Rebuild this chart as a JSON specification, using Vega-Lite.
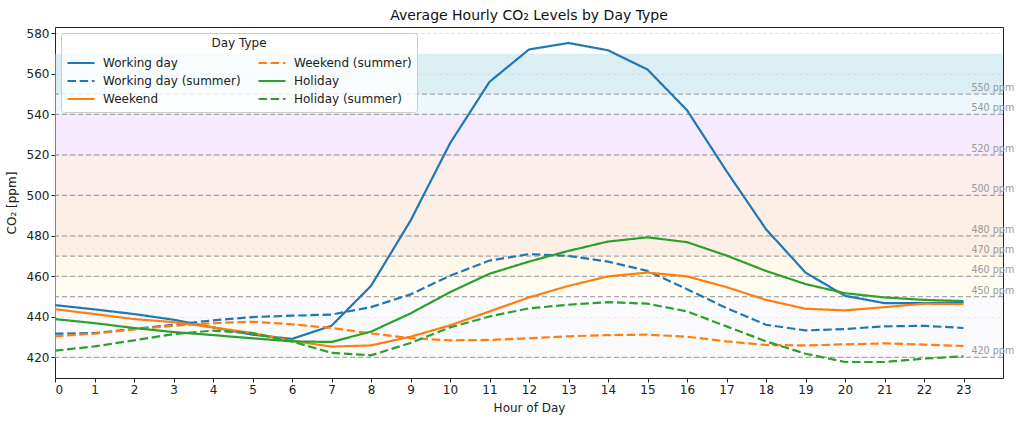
{
  "$schema": "https://vega.github.io/schema/vega-lite/v6.json",
  "width": 948,
  "height": 351,
  "autosize": {"type": "none"},
  "padding": {"left": 55, "top": 27, "right": 21, "bottom": 44},
  "background": "white",
  "config": {
    "font": "DejaVu Sans",
    "view": {"stroke": "#222", "strokeWidth": 1},
    "axis": {
      "labelFontSize": 12, "labelColor": "#222", "titleFontSize": 12, "titleFontWeight": "normal", "titleColor": "#222",
      "tickColor": "#222", "tickSize": 4, "labelPadding": 2, "domain": false,
      "gridColor": "#b0b0b0", "gridDash": [3, 3], "gridOpacity": 0.55, "gridWidth": 0.8
    },
    "legend": {
      "orient": "top-left", "offset": 6, "columns": 2, "symbolType": "stroke", "symbolSize": 729, "symbolStrokeWidth": 2.2,
      "labelFontSize": 12, "labelColor": "#222", "titleFontSize": 12, "titleFontWeight": "normal", "titleColor": "#222", "titleAnchor": "middle",
      "fillColor": "rgba(255,255,255,0.8)", "strokeColor": "#cccccc", "cornerRadius": 3, "padding": 5,
      "columnPadding": 16, "rowPadding": 2, "clipHeight": 16, "titlePadding": 5, "labelOffset": 7
    }
  },
  "title": {"text": "Average Hourly CO₂ Levels by Day Type", "fontSize": 14, "fontWeight": "normal", "color": "#111", "offset": 4},
  "datasets": {
    "bands": [
      {"lo": 550, "hi": 570, "band": "550-570"},
      {"lo": 540, "hi": 550, "band": "540-550"},
      {"lo": 520, "hi": 540, "band": "520-540"},
      {"lo": 500, "hi": 520, "band": "500-520"},
      {"lo": 480, "hi": 500, "band": "480-500"},
      {"lo": 470, "hi": 480, "band": "470-480"},
      {"lo": 460, "hi": 470, "band": "460-470"},
      {"lo": 450, "hi": 460, "band": "450-460"},
      {"lo": 420, "hi": 450, "band": "420-450"}
    ],
    "levels": [
      {"level": 420, "label": "420 ppm"},
      {"level": 450, "label": "450 ppm"},
      {"level": 460, "label": "460 ppm"},
      {"level": 470, "label": "470 ppm"},
      {"level": 480, "label": "480 ppm"},
      {"level": 500, "label": "500 ppm"},
      {"level": 520, "label": "520 ppm"},
      {"level": 540, "label": "540 ppm"},
      {"level": 550, "label": "550 ppm"}
    ],
    "co2": [
      {"hour": 0, "series": "Working day", "co2": 445.8},
      {"hour": 1, "series": "Working day", "co2": 443.7},
      {"hour": 2, "series": "Working day", "co2": 441.4},
      {"hour": 3, "series": "Working day", "co2": 438.6},
      {"hour": 4, "series": "Working day", "co2": 434.8},
      {"hour": 5, "series": "Working day", "co2": 431.2},
      {"hour": 6, "series": "Working day", "co2": 429.1},
      {"hour": 7, "series": "Working day", "co2": 435.6},
      {"hour": 8, "series": "Working day", "co2": 455.3},
      {"hour": 9, "series": "Working day", "co2": 487.5},
      {"hour": 10, "series": "Working day", "co2": 525.7},
      {"hour": 11, "series": "Working day", "co2": 556.1},
      {"hour": 12, "series": "Working day", "co2": 572.1},
      {"hour": 13, "series": "Working day", "co2": 575.3},
      {"hour": 14, "series": "Working day", "co2": 571.7},
      {"hour": 15, "series": "Working day", "co2": 562.2},
      {"hour": 16, "series": "Working day", "co2": 542.1},
      {"hour": 17, "series": "Working day", "co2": 512.0},
      {"hour": 18, "series": "Working day", "co2": 483.3},
      {"hour": 19, "series": "Working day", "co2": 461.9},
      {"hour": 20, "series": "Working day", "co2": 450.4},
      {"hour": 21, "series": "Working day", "co2": 446.8},
      {"hour": 22, "series": "Working day", "co2": 446.8},
      {"hour": 23, "series": "Working day", "co2": 447.1},
      {"hour": 0, "series": "Working day (summer)", "co2": 431.7},
      {"hour": 1, "series": "Working day (summer)", "co2": 432.0},
      {"hour": 2, "series": "Working day (summer)", "co2": 434.0},
      {"hour": 3, "series": "Working day (summer)", "co2": 436.1},
      {"hour": 4, "series": "Working day (summer)", "co2": 438.3},
      {"hour": 5, "series": "Working day (summer)", "co2": 439.9},
      {"hour": 6, "series": "Working day (summer)", "co2": 440.6},
      {"hour": 7, "series": "Working day (summer)", "co2": 441.1},
      {"hour": 8, "series": "Working day (summer)", "co2": 444.8},
      {"hour": 9, "series": "Working day (summer)", "co2": 451.1},
      {"hour": 10, "series": "Working day (summer)", "co2": 460.3},
      {"hour": 11, "series": "Working day (summer)", "co2": 467.8},
      {"hour": 12, "series": "Working day (summer)", "co2": 471.0},
      {"hour": 13, "series": "Working day (summer)", "co2": 470.1},
      {"hour": 14, "series": "Working day (summer)", "co2": 467.3},
      {"hour": 15, "series": "Working day (summer)", "co2": 462.7},
      {"hour": 16, "series": "Working day (summer)", "co2": 453.7},
      {"hour": 17, "series": "Working day (summer)", "co2": 444.3},
      {"hour": 18, "series": "Working day (summer)", "co2": 436.1},
      {"hour": 19, "series": "Working day (summer)", "co2": 433.3},
      {"hour": 20, "series": "Working day (summer)", "co2": 434.0},
      {"hour": 21, "series": "Working day (summer)", "co2": 435.3},
      {"hour": 22, "series": "Working day (summer)", "co2": 435.6},
      {"hour": 23, "series": "Working day (summer)", "co2": 434.5},
      {"hour": 0, "series": "Weekend", "co2": 443.8},
      {"hour": 1, "series": "Weekend", "co2": 441.4},
      {"hour": 2, "series": "Weekend", "co2": 438.9},
      {"hour": 3, "series": "Weekend", "co2": 437.4},
      {"hour": 4, "series": "Weekend", "co2": 434.8},
      {"hour": 5, "series": "Weekend", "co2": 432.0},
      {"hour": 6, "series": "Weekend", "co2": 428.2},
      {"hour": 7, "series": "Weekend", "co2": 425.3},
      {"hour": 8, "series": "Weekend", "co2": 425.9},
      {"hour": 9, "series": "Weekend", "co2": 430.2},
      {"hour": 10, "series": "Weekend", "co2": 435.8},
      {"hour": 11, "series": "Weekend", "co2": 442.7},
      {"hour": 12, "series": "Weekend", "co2": 449.6},
      {"hour": 13, "series": "Weekend", "co2": 455.3},
      {"hour": 14, "series": "Weekend", "co2": 460.0},
      {"hour": 15, "series": "Weekend", "co2": 461.9},
      {"hour": 16, "series": "Weekend", "co2": 460.0},
      {"hour": 17, "series": "Weekend", "co2": 454.7},
      {"hour": 18, "series": "Weekend", "co2": 448.4},
      {"hour": 19, "series": "Weekend", "co2": 444.0},
      {"hour": 20, "series": "Weekend", "co2": 443.2},
      {"hour": 21, "series": "Weekend", "co2": 444.8},
      {"hour": 22, "series": "Weekend", "co2": 446.5},
      {"hour": 23, "series": "Weekend", "co2": 446.3},
      {"hour": 0, "series": "Weekend (summer)", "co2": 430.4},
      {"hour": 1, "series": "Weekend (summer)", "co2": 431.7},
      {"hour": 2, "series": "Weekend (summer)", "co2": 433.8},
      {"hour": 3, "series": "Weekend (summer)", "co2": 435.6},
      {"hour": 4, "series": "Weekend (summer)", "co2": 436.9},
      {"hour": 5, "series": "Weekend (summer)", "co2": 437.6},
      {"hour": 6, "series": "Weekend (summer)", "co2": 436.3},
      {"hour": 7, "series": "Weekend (summer)", "co2": 434.5},
      {"hour": 8, "series": "Weekend (summer)", "co2": 431.8},
      {"hour": 9, "series": "Weekend (summer)", "co2": 429.5},
      {"hour": 10, "series": "Weekend (summer)", "co2": 428.4},
      {"hour": 11, "series": "Weekend (summer)", "co2": 428.6},
      {"hour": 12, "series": "Weekend (summer)", "co2": 429.4},
      {"hour": 13, "series": "Weekend (summer)", "co2": 430.4},
      {"hour": 14, "series": "Weekend (summer)", "co2": 431.0},
      {"hour": 15, "series": "Weekend (summer)", "co2": 431.2},
      {"hour": 16, "series": "Weekend (summer)", "co2": 430.2},
      {"hour": 17, "series": "Weekend (summer)", "co2": 427.9},
      {"hour": 18, "series": "Weekend (summer)", "co2": 426.1},
      {"hour": 19, "series": "Weekend (summer)", "co2": 425.9},
      {"hour": 20, "series": "Weekend (summer)", "co2": 426.4},
      {"hour": 21, "series": "Weekend (summer)", "co2": 426.9},
      {"hour": 22, "series": "Weekend (summer)", "co2": 426.3},
      {"hour": 23, "series": "Weekend (summer)", "co2": 425.6},
      {"hour": 0, "series": "Holiday", "co2": 438.9},
      {"hour": 1, "series": "Holiday", "co2": 436.9},
      {"hour": 2, "series": "Holiday", "co2": 434.5},
      {"hour": 3, "series": "Holiday", "co2": 432.5},
      {"hour": 4, "series": "Holiday", "co2": 431.0},
      {"hour": 5, "series": "Holiday", "co2": 429.4},
      {"hour": 6, "series": "Holiday", "co2": 427.9},
      {"hour": 7, "series": "Holiday", "co2": 427.6},
      {"hour": 8, "series": "Holiday", "co2": 432.7},
      {"hour": 9, "series": "Holiday", "co2": 441.7},
      {"hour": 10, "series": "Holiday", "co2": 452.2},
      {"hour": 11, "series": "Holiday", "co2": 461.3},
      {"hour": 12, "series": "Holiday", "co2": 467.3},
      {"hour": 13, "series": "Holiday", "co2": 472.6},
      {"hour": 14, "series": "Holiday", "co2": 477.2},
      {"hour": 15, "series": "Holiday", "co2": 479.3},
      {"hour": 16, "series": "Holiday", "co2": 476.9},
      {"hour": 17, "series": "Holiday", "co2": 470.3},
      {"hour": 18, "series": "Holiday", "co2": 462.7},
      {"hour": 19, "series": "Holiday", "co2": 456.2},
      {"hour": 20, "series": "Holiday", "co2": 451.7},
      {"hour": 21, "series": "Holiday", "co2": 449.6},
      {"hour": 22, "series": "Holiday", "co2": 448.4},
      {"hour": 23, "series": "Holiday", "co2": 447.8},
      {"hour": 0, "series": "Holiday (summer)", "co2": 423.3},
      {"hour": 1, "series": "Holiday (summer)", "co2": 425.4},
      {"hour": 2, "series": "Holiday (summer)", "co2": 428.4},
      {"hour": 3, "series": "Holiday (summer)", "co2": 431.5},
      {"hour": 4, "series": "Holiday (summer)", "co2": 433.2},
      {"hour": 5, "series": "Holiday (summer)", "co2": 432.0},
      {"hour": 6, "series": "Holiday (summer)", "co2": 427.9},
      {"hour": 7, "series": "Holiday (summer)", "co2": 422.2},
      {"hour": 8, "series": "Holiday (summer)", "co2": 421.0},
      {"hour": 9, "series": "Holiday (summer)", "co2": 427.1},
      {"hour": 10, "series": "Holiday (summer)", "co2": 434.8},
      {"hour": 11, "series": "Holiday (summer)", "co2": 440.2},
      {"hour": 12, "series": "Holiday (summer)", "co2": 444.2},
      {"hour": 13, "series": "Holiday (summer)", "co2": 446.0},
      {"hour": 14, "series": "Holiday (summer)", "co2": 447.3},
      {"hour": 15, "series": "Holiday (summer)", "co2": 446.5},
      {"hour": 16, "series": "Holiday (summer)", "co2": 442.7},
      {"hour": 17, "series": "Holiday (summer)", "co2": 435.3},
      {"hour": 18, "series": "Holiday (summer)", "co2": 427.9},
      {"hour": 19, "series": "Holiday (summer)", "co2": 421.8},
      {"hour": 20, "series": "Holiday (summer)", "co2": 417.7},
      {"hour": 21, "series": "Holiday (summer)", "co2": 417.7},
      {"hour": 22, "series": "Holiday (summer)", "co2": 419.4},
      {"hour": 23, "series": "Holiday (summer)", "co2": 420.5}
    ]
  },
  "layer": [
    {
      "data": {"name": "bands"},
      "mark": {"type": "rect", "fillOpacity": 0.5},
      "encoding": {
        "y": {"field": "lo", "type": "quantitative", "scale": {"domain": [409.8, 583.2], "nice": false, "zero": false},
              "axis": {"values": [420, 440, 460, 480, 500, 520, 540, 560, 580], "title": "CO₂ [ppm]", "titlePadding": 8}},
        "y2": {"field": "hi"},
        "fill": {"field": "band", "type": "nominal", "legend": null,
                 "scale": {"domain": ["550-570", "540-550", "520-540", "500-520", "480-500", "470-480", "460-470", "450-460", "420-450"],
                           "range": ["#b7dde9", "#ddeff9", "#edd5fd", "#f7dddb", "#f9dfcd", "#f9e1cd", "#fff3d9", "#fff9e9", "#f5f5f9"]}}
      }
    },
    {
      "data": {"name": "levels"},
      "mark": {"type": "rule", "strokeDash": [5, 3], "color": "#9a9a9a", "strokeWidth": 1.2, "opacity": 0.85},
      "encoding": {"y": {"field": "level", "type": "quantitative"}}
    },
    {
      "data": {"name": "levels"},
      "mark": {"type": "text", "align": "left", "baseline": "bottom", "dy": -1, "fontSize": 9.6, "color": "#999999"},
      "encoding": {
        "x": {"datum": 23.2, "type": "quantitative"},
        "y": {"field": "level", "type": "quantitative"},
        "text": {"field": "label"}
      }
    },
    {
      "data": {"name": "co2"},
      "mark": {"type": "line", "strokeWidth": 2.2},
      "encoding": {
        "x": {"field": "hour", "type": "quantitative", "scale": {"domain": [0, 24], "nice": false},
              "axis": {"values": [0,1,2,3,4,5,6,7,8,9,10,11,12,13,14,15,16,17,18,19,20,21,22,23], "title": "Hour of Day", "titlePadding": 7}},
        "y": {"field": "co2", "type": "quantitative"},
        "color": {"field": "series", "type": "nominal", "title": "Day Type",
                  "scale": {"domain": ["Working day", "Working day (summer)", "Weekend", "Weekend (summer)", "Holiday", "Holiday (summer)"],
                            "range": ["#1f77b4", "#1f77b4", "#ff7f0e", "#ff7f0e", "#2ca02c", "#2ca02c"]}},
        "strokeDash": {"field": "series", "type": "nominal", "title": "Day Type",
                       "scale": {"domain": ["Working day", "Working day (summer)", "Weekend", "Weekend (summer)", "Holiday", "Holiday (summer)"],
                                 "range": [[1, 0], [8.5, 3.7], [1, 0], [8.5, 3.7], [1, 0], [8.5, 3.7]]}}
      }
    }
  ]
}
